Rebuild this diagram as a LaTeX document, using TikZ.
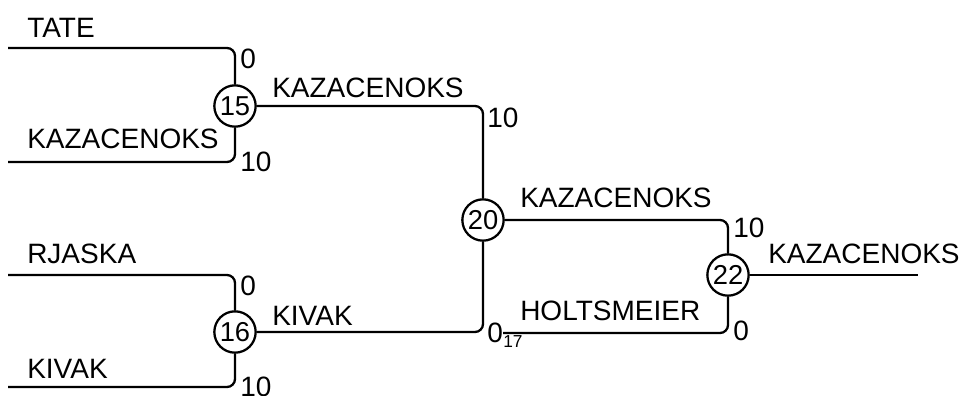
\documentclass[tikz,border=0pt]{standalone}
\usepackage{fontspec}
\setmainfont{Liberation Sans}
\usetikzlibrary{positioning}
\tikzset{
  match/.style={draw, circle, line width=1.7pt, minimum size=31pt, inner sep=0pt, font=\fontsize{20.5}{20}\selectfont},
  player/.style={anchor=base west, inner sep=0pt, font=\fontsize{21}{21}\selectfont},
  score/.style={anchor=base west, inner sep=0pt, font=\fontsize{21}{21}\selectfont},
  wire/.style={line width=1.7pt, rounded corners=6pt},
}
\begin{document}
\begin{tikzpicture}[x=0.75pt,y=0.75pt,yscale=-1,xscale=1]
\useasboundingbox (0,0) rectangle (961,396);

%Match circles
\node[match] (m15) at (235,106) {15};
\node[match] (m16) at (235,332) {16};
\node[match] (m20) at (483,220) {20};
\node[match] (m22) at (728,275) {22};

%Free line ends
\coordinate (tate) at (8,48);
\coordinate (kazA) at (8,162);
\coordinate (rjaska) at (8,275);
\coordinate (kivakA) at (8,387);
\coordinate (holts) at (503,333);
\coordinate (winner) at (918,275);

%Bracket lines
\draw[wire] (tate) -| (m15);
\draw[wire] (kazA) -| (m15);
\draw[wire] (rjaska) -| (m16);
\draw[wire] (kivakA) -| (m16);
\draw[wire] (m15) -| (m20);
\draw[wire] (m16) -| (m20);
\draw[wire] (m20) -| (m22);
\draw[wire] (holts) -| (m22);
\draw[wire] (m22) -- (winner);

% Text Node
\node[player] (tTate) at (27,37) {TATE};
\node[player] (tKazA) at (27,148) {KAZACENOKS};
\node[player] (tRjaska) at (27,263) {RJASKA};
\node[player] (tKivakA) at (27,378) {KIVAK};
\node[player] (tKazB) at (272,97) {KAZACENOKS};
\node[player] (tKivakB) at (272,325) {KIVAK};
\node[player] (tKazC) at (520,207) {KAZACENOKS};
\node[player] (tHolts) at (520,320) {HOLTSMEIER};
\node[player] (tKazD) at (768,263) {KAZACENOKS};

% Score Node
\node[score] (s15a) at (240,68) {0};
\node[score] (s15b) at (240,171) {10};
\node[score] (s16a) at (240,295) {0};
\node[score] (s16b) at (240,396) {10};
\node[score] (s20a) at (487,127) {10};
\node[score] (s20b) at (487,342) {0};
\node[score, font=\fontsize{13}{13}\selectfont] (s20c) at (503,347) {17};
\node[score] (s22a) at (733,237) {10};
\node[score] (s22b) at (733,340) {0};

\end{tikzpicture}
\end{document}
